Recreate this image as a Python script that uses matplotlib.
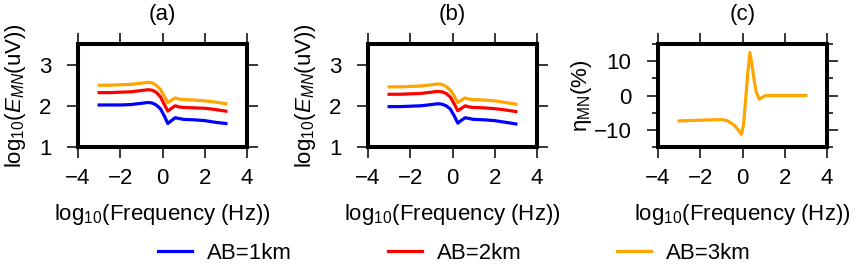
import matplotlib
matplotlib.use("Agg")
import matplotlib.pyplot as plt
from matplotlib.ticker import MultipleLocator

plt.rcParams["font.family"] = ["Liberation Sans", "DejaVu Sans"]
plt.rcParams["mathtext.fontset"] = "custom"
plt.rcParams["mathtext.rm"] = "Liberation Sans"
plt.rcParams["mathtext.it"] = "Liberation Sans:italic"

# log10(frequency) sample points
freq = [-3, -2.5, -2, -1.5, -1, -0.7, -0.5, -0.3, -0.1, 0.1, 0.25, 0.4, 0.6, 0.8, 1.0, 1.5, 2.0, 2.5, 3.0]

# (a) log10(E_MN) for AB = 1, 2, 3 km
a_ab1 = [2.02, 2.02, 2.02, 2.03, 2.06, 2.08, 2.07, 2.02, 1.93, 1.74, 1.57, 1.63, 1.71, 1.69, 1.67, 1.66, 1.64, 1.60, 1.57]
a_ab2 = [2.32, 2.32, 2.33, 2.34, 2.37, 2.39, 2.38, 2.33, 2.22, 2.02, 1.87, 1.93, 2.00, 1.97, 1.96, 1.95, 1.94, 1.91, 1.87]
a_ab3 = [2.50, 2.50, 2.51, 2.52, 2.55, 2.57, 2.56, 2.50, 2.40, 2.22, 2.07, 2.13, 2.19, 2.16, 2.15, 2.14, 2.12, 2.09, 2.05]

# (b) log10(E_MN) for AB = 1, 2, 3 km
b_ab1 = [1.98, 1.98, 1.99, 2.00, 2.03, 2.05, 2.04, 2.00, 1.92, 1.74, 1.58, 1.64, 1.71, 1.69, 1.67, 1.66, 1.64, 1.60, 1.56]
b_ab2 = [2.28, 2.28, 2.29, 2.30, 2.33, 2.35, 2.34, 2.30, 2.21, 2.03, 1.88, 1.93, 2.00, 1.97, 1.96, 1.95, 1.93, 1.90, 1.86]
b_ab3 = [2.46, 2.46, 2.47, 2.48, 2.51, 2.53, 2.52, 2.47, 2.38, 2.22, 2.08, 2.13, 2.19, 2.16, 2.15, 2.14, 2.12, 2.08, 2.04]

# (c) eta_MN (%)
freq_c = [-3, -2, -1.5, -1, -0.7, -0.4, -0.2, -0.05, 0.05, 0.15, 0.25, 0.35, 0.45, 0.55, 0.65, 0.8, 0.95, 1.1, 2, 3]
eta = [-7.4, -7.2, -7.1, -7.0, -7.4, -8.6, -10.0, -11.3, -8.5, -1.0, 6.5, 12.5, 9.0, 4.5, 1.0, -1.1, -0.5, 0.0, 0.0, 0.0]

colors = ["#0000ff", "#ff0000", "#ffa500"]
labels = ["AB=1km", "AB=2km", "AB=3km"]

fig = plt.figure(figsize=(8.58, 2.65), dpi=100)
lefts = [78 / 858, 368 / 858, 658 / 858]
bottom = (265 - 147) / 265
w = 169 / 858
h = 103 / 265
axes = [fig.add_axes([l, bottom, w, h]) for l in lefts]

fs = 16
for ax in axes:
    for s in ax.spines.values():
        s.set_linewidth(2.9)
    ax.tick_params(which="both", direction="out", top=True, right=True,
                   labelsize=fs, width=1.1)
    ax.tick_params(axis="x", pad=7)
    ax.tick_params(axis="y", pad=11)
    ax.tick_params(which="major", length=8)
    ax.tick_params(which="minor", length=4.5)
    ax.set_xlim(-4, 4)
    ax.xaxis.set_major_locator(MultipleLocator(2))
    ax.set_xlabel(r"log$_{10}$(Frequency (Hz))", fontsize=fs, va="center")
    ax.xaxis.set_label_coords(0.5, -0.66)

lines = []
for ax, series in zip(axes[:2], [(a_ab1, a_ab2, a_ab3), (b_ab1, b_ab2, b_ab3)]):
    hs = []
    for y, c, lab in zip(series, colors, labels):
        ln, = ax.plot(freq, y, color=c, lw=2.3, label=lab)
        hs.append(ln)
    lines = hs
    ax.set_ylim(1, 3.5)
    ax.yaxis.set_major_locator(MultipleLocator(1))
    ax.set_ylabel(r"log$_{10}$($E_{MN}$(uV))", fontsize=fs, va="center")
    ax.yaxis.set_label_coords(-0.37, 0.5)

axes[2].plot(freq_c, eta, color=colors[2], lw=2.3)
axes[2].set_ylim(-15, 15)
axes[2].yaxis.set_major_locator(MultipleLocator(10))
axes[2].yaxis.set_minor_locator(MultipleLocator(5))
axes[2].set_ylabel(r"η$_{\rm MN}$(%)", fontsize=fs, va="center")
axes[2].yaxis.set_label_coords(-0.45, 0.5)

for ax, t in zip(axes, ["(a)", "(b)", "(c)"]):
    ax.text(0.5, 1.29, t, transform=ax.transAxes, ha="center", va="center", fontsize=fs)

fig.legend(lines, labels, loc="center", bbox_to_anchor=(0.530, 0.045), ncol=3,
           frameon=False, fontsize=fs, handlelength=1.53, handletextpad=0.68,
           columnspacing=4.3)

fig.savefig("out.png", dpi=100)
